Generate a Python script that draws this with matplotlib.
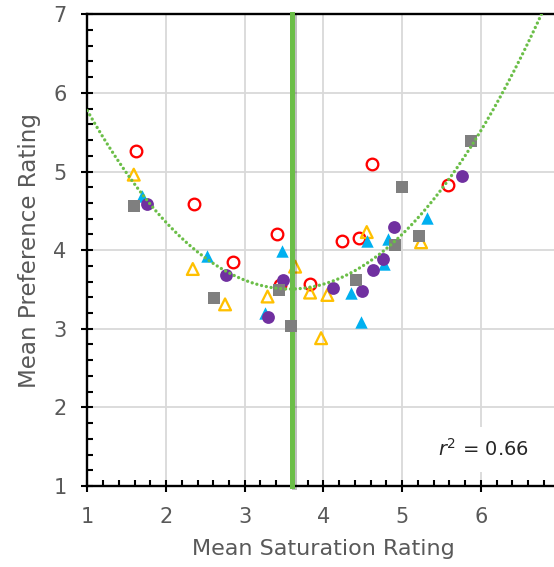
import matplotlib.pyplot as plt
import matplotlib.patheffects as pe
from matplotlib.ticker import MultipleLocator
import numpy as np

plt.rcParams['font.family'] = ['DejaVu Sans']
plt.rcParams['mathtext.fontset'] = 'dejavusans'

# data (mean saturation, mean preference)
red_x = [1.62, 2.35, 2.85, 3.41, 3.45, 3.83, 4.24, 4.45, 4.62, 5.58]
red_y = [5.26, 4.59, 3.85, 4.21, 3.56, 3.57, 4.12, 4.15, 5.09, 4.83]

yellow_x = [1.59, 2.34, 2.75, 3.29, 3.64, 3.83, 4.05, 3.97, 4.55, 5.24]
yellow_y = [4.96, 3.76, 3.31, 3.41, 3.79, 3.46, 3.43, 2.88, 4.23, 4.10]

blue_x = [1.70, 2.52, 3.47, 3.26, 4.35, 4.48, 4.55, 4.77, 4.82, 5.32]
blue_y = [4.69, 3.93, 3.99, 3.20, 3.46, 3.09, 4.11, 3.82, 4.14, 4.41]

purple_x = [1.76, 2.76, 3.49, 3.30, 4.12, 4.49, 4.63, 4.76, 4.90, 5.76]
purple_y = [4.59, 3.68, 3.62, 3.15, 3.52, 3.48, 3.75, 3.89, 4.30, 4.94]

gray_x = [1.59, 2.61, 3.43, 3.59, 4.41, 4.91, 5.00, 5.21, 5.88]
gray_y = [4.56, 3.39, 3.49, 3.04, 3.62, 4.06, 4.80, 4.18, 5.39]

peak_saturation = 3.6
r2_text = r'$\mathit{r}^{2}$ = 0.66'

# colours
grey_text = '#595959'
green = '#6BBE48'

fig = plt.figure(figsize=(5.54, 5.67), dpi=100)
ax = fig.add_axes([0.1576, 0.1429, 0.8525, 0.8319])

ax.set_xlim(1, 7)
ax.set_ylim(1, 7)

# grid + spines
ax.grid(True, which='major', color='#D9D9D9', linewidth=1.3, zorder=0)
ax.set_axisbelow(True)
for side in ['left', 'bottom', 'top']:
    ax.spines[side].set_linewidth(1.7)
    ax.spines[side].set_color('black')
ax.spines['right'].set_visible(False)

ax.xaxis.set_major_locator(MultipleLocator(1))
ax.yaxis.set_major_locator(MultipleLocator(1))
ax.xaxis.set_minor_locator(MultipleLocator(0.2))
ax.yaxis.set_minor_locator(MultipleLocator(0.2))
ax.tick_params(which='major', direction='inout', length=9, width=1.5,
               labelsize=15, labelcolor=grey_text, pad=10.5)
ax.tick_params(which='minor', direction='in', length=4.3, width=1.5)
ax.tick_params(axis='x', which='both', top=False)

# series
ax.scatter(red_x, red_y, s=70, marker='o', facecolors='white',
           edgecolors='#FF0000', linewidths=1.65, zorder=3)
ax.scatter(yellow_x, yellow_y, s=72, marker='^', facecolors='none',
           edgecolors='#FFC000', linewidths=1.65, zorder=3)

# vertical line at the peak of the curve
ax.plot([peak_saturation, peak_saturation], [1, 7], color=green, lw=3.6,
        solid_capstyle='projecting', clip_on=False, zorder=4,
        path_effects=[pe.SimpleLineShadow(offset=(1.5, -1), alpha=0.25),
                      pe.Normal()])

ax.scatter(blue_x, blue_y, s=80, marker='^', color='#00B0F0',
           linewidths=0, zorder=5)
ax.scatter(purple_x, purple_y, s=85, marker='o', color='#7030A0',
           linewidths=0, zorder=5)
ax.scatter(gray_x, gray_y, s=64, marker='s', color='#7F7F7F',
           linewidths=0, zorder=5)

# quadratic trendline fitted to all points
all_x = np.array(red_x + yellow_x + blue_x + purple_x + gray_x)
all_y = np.array(red_y + yellow_y + blue_y + purple_y + gray_y)
coef = np.polyfit(all_x, all_y, 2)
xs = np.linspace(1, 7, 400)
ax.plot(xs, np.polyval(coef, xs), color=green, lw=2.4,
        linestyle=(0, (0.01, 1.45)), dash_capstyle='round', zorder=6)

ax.text(5.46, 1.38, r2_text, fontsize=14, color='#262626',
        ha='left', va='baseline', zorder=7,
        bbox=dict(facecolor='white', edgecolor='none',
                  boxstyle='square,pad=0.6'))

ax.set_xlabel('Mean Saturation Rating', fontsize=16, color=grey_text,
              labelpad=9)
ax.set_ylabel('Mean Preference Rating', fontsize=16.6, color=grey_text,
              labelpad=9)

fig.savefig('out.png', dpi=100)
